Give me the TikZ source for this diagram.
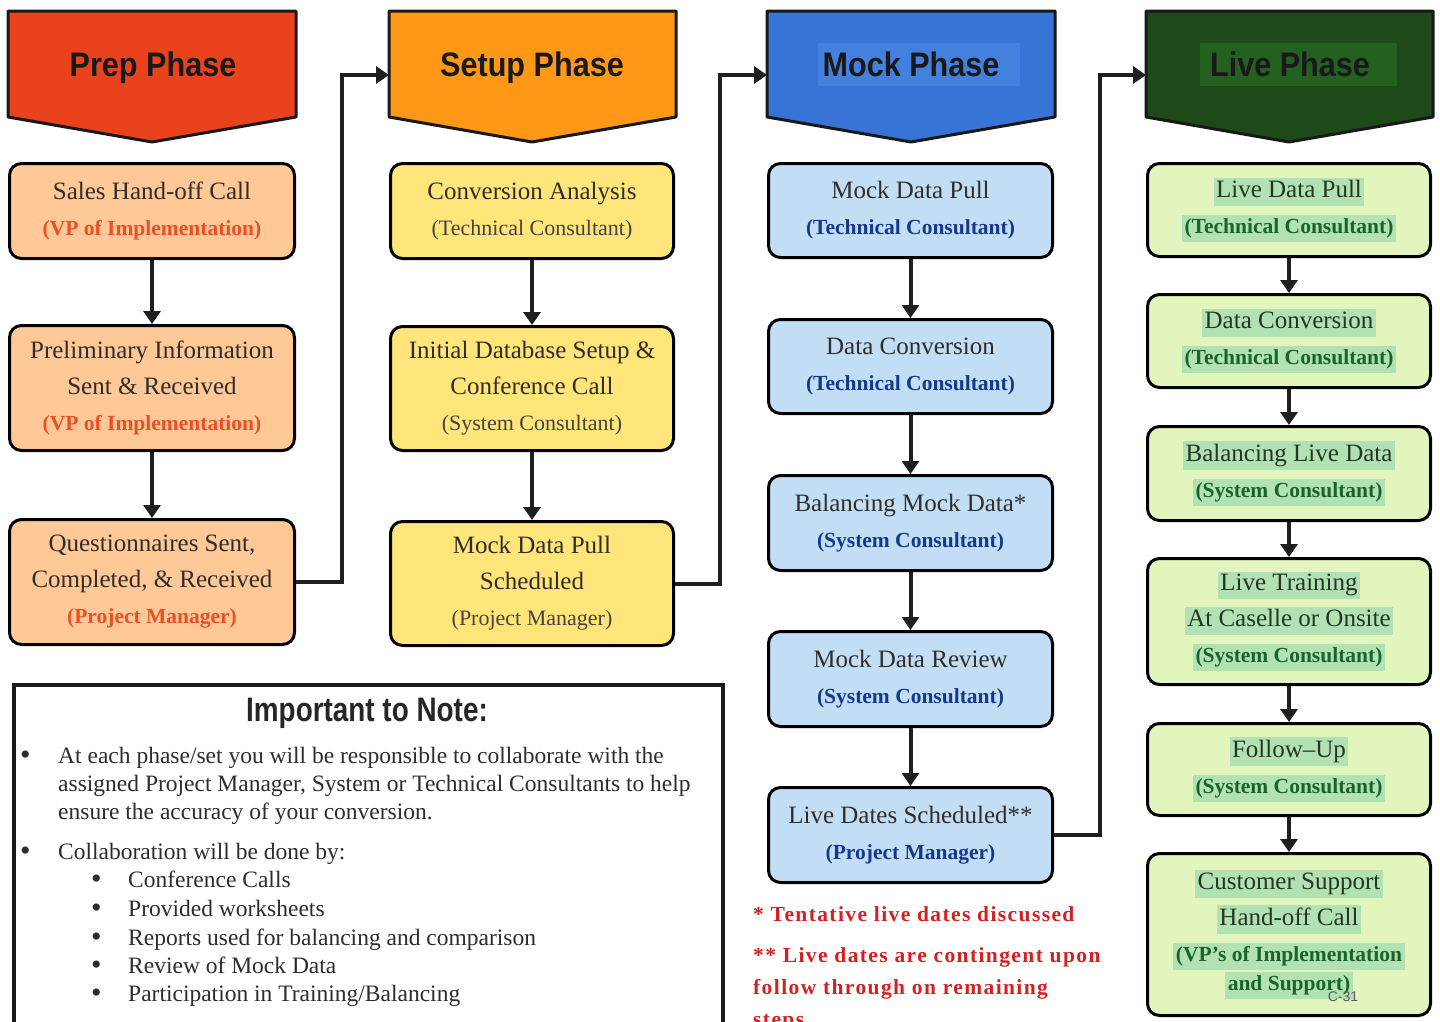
\documentclass[tikz,border=0pt]{standalone}
\usepackage{fontspec}
\setmainfont{Liberation Serif}
\newfontfamily\hdfont[FakeStretch=0.9]{Liberation Sans}
\newfontfamily\notehdfont[FakeStretch=0.82]{Liberation Sans}
\newfontfamily\fnfont[LetterSpace=6.5]{Liberation Serif}
\newfontfamily\cfont{Liberation Sans}
\usetikzlibrary{arrows.meta}

\definecolor{prepred}{RGB}{235,66,30}
\definecolor{setuporange}{RGB}{255,152,22}
\definecolor{mockblue}{RGB}{56,116,214}
\definecolor{mockhl}{RGB}{68,128,222}
\definecolor{livegreen}{RGB}{30,74,26}
\definecolor{livehl}{RGB}{36,96,32}
\definecolor{prepfill}{RGB}{255,200,150}
\definecolor{setupfill}{RGB}{255,229,122}
\definecolor{mockfill}{RGB}{194,222,245}
\definecolor{livefill}{RGB}{226,245,189}
\definecolor{hlgreen}{RGB}{178,226,180}
\definecolor{bodytxt}{RGB}{50,45,40}
\definecolor{livetxt}{RGB}{35,55,35}
\definecolor{preprole}{RGB}{232,80,40}
\definecolor{setuprole}{RGB}{70,68,60}
\definecolor{mockrole}{RGB}{22,56,140}
\definecolor{liverole}{RGB}{25,100,45}
\definecolor{notetxt}{RGB}{45,45,45}
\definecolor{fnred}{RGB}{212,32,32}

\newcommand\bxfont{\fontsize{25}{36}\selectfont}
\newcommand\rlfont{\bfseries\fontsize{21.5}{36}\selectfont}
\newcommand\rlfontreg{\fontsize{22}{36}\selectfont}
\newcommand\hlg[1]{{\setlength{\fboxsep}{2.5pt}\colorbox{hlgreen}{\rule[-6pt]{0pt}{22pt}#1}}}

\tikzset{
  box/.style={draw=black, line width=3pt, rounded corners=12pt, align=center,
    text=bodytxt, font=\bxfont, inner sep=0pt},
  prepbox/.style={box, fill=prepfill, minimum width=285pt},
  setupbox/.style={box, fill=setupfill, minimum width=283pt},
  mockbox/.style={box, fill=mockfill, minimum width=284pt},
  livebox/.style={box, fill=livefill, minimum width=283pt, text=livetxt},
  flow/.style={line width=4pt, draw=black!88, -{Triangle[width=17pt,length=13pt]}},
  hdr/.style={draw=black!90, line width=3pt, line join=round},
  hdtext/.style={font=\hdfont\bfseries\fontsize{34}{40}\selectfont, text=black!90, inner sep=0pt, anchor=base},
  notetext/.style={anchor=base west, inner sep=0pt, text=notetxt, font=\fontsize{23.5}{28}\selectfont},
  bul/.style={anchor=base west, inner sep=0pt, text=notetxt, font=\fontsize{30}{30}\selectfont},
  fntext/.style={anchor=base west, inner sep=0pt, text=fnred, font=\fnfont\bfseries\fontsize{21.5}{26}\selectfont},
}

\begin{document}
\begin{tikzpicture}[x=1pt,y=-1pt]
\useasboundingbox (0,0) rectangle (1440,1021);

% ---------- headers ----------
\draw[hdr, fill=prepred] (8,11) -- (296,11) -- (296,117) -- (152,142) -- (8,117) -- cycle;
\node[hdtext] (hp) at (153,76) {Prep Phase};

\draw[hdr, fill=setuporange] (389,11) -- (676,11) -- (676,117) -- (532,142) -- (389,117) -- cycle;
\node[hdtext] (hs) at (532,76) {Setup Phase};
\coordinate (sin) at (389,75);

\draw[hdr, fill=mockblue] (767,11) -- (1055,11) -- (1055,117) -- (911,142) -- (767,117) -- cycle;
\fill[mockhl] (818,43) rectangle (1020,86);
\node[hdtext] (hm) at (911,76) {Mock Phase};
\coordinate (min) at (767,75);

\draw[hdr, fill=livegreen] (1146,11) -- (1433,11) -- (1433,117) -- (1289,142) -- (1146,117) -- cycle;
\fill[livehl] (1200,43) rectangle (1397,86);
\node[hdtext] (hl) at (1290,76) {Live Phase};
\coordinate (lin) at (1146,75);

% ---------- prep column ----------
\node[prepbox, minimum height=95pt] (p1) at (152,211)
  {Sales Hand-off Call\\{\rlfont\color{preprole}(VP of Implementation)}};
\node[prepbox, minimum height=125pt] (p2) at (152,388)
  {Preliminary Information\\Sent \& Received\\{\rlfont\color{preprole}(VP of Implementation)}};
\node[prepbox, minimum height=125pt] (p3) at (152,582)
  {Questionnaires Sent,\\Completed, \& Received\\{\rlfont\color{preprole}(Project Manager)}};

% ---------- setup column ----------
\node[setupbox, minimum height=95pt] (s1) at (532,211)
  {Conversion Analysis\\{\rlfontreg\color{setuprole}(Technical Consultant)}};
\node[setupbox, minimum height=124pt] (s2) at (532,388.5)
  {Initial Database Setup \&\\Conference Call\\{\rlfontreg\color{setuprole}(System Consultant)}};
\node[setupbox, minimum height=124pt] (s3) at (532,583.5)
  {Mock Data Pull\\Scheduled\\{\rlfontreg\color{setuprole}(Project Manager)}};

% ---------- mock column ----------
\node[mockbox, minimum height=94pt] (m1) at (910.5,210.5)
  {Mock Data Pull\\{\rlfont\color{mockrole}(Technical Consultant)}};
\node[mockbox, minimum height=94pt] (m2) at (910.5,366.5)
  {Data Conversion\\{\rlfont\color{mockrole}(Technical Consultant)}};
\node[mockbox, minimum height=95pt] (m3) at (910.5,523)
  {Balancing Mock Data*\\{\rlfont\color{mockrole}(System Consultant)}};
\node[mockbox, minimum height=95pt] (m4) at (910.5,679)
  {Mock Data Review\\{\rlfont\color{mockrole}(System Consultant)}};
\node[mockbox, minimum height=95pt] (m5) at (910.5,835)
  {Live Dates Scheduled**\\{\rlfont\color{mockrole}(Project Manager)}};

% ---------- live column ----------
\node[livebox, minimum height=93pt] (l1) at (1289,210)
  {\hlg{Live Data Pull}\\{\rlfont\color{liverole}\hlg{(Technical Consultant)}}};
\node[livebox, minimum height=93pt] (l2) at (1289,341)
  {\hlg{Data Conversion}\\{\rlfont\color{liverole}\hlg{(Technical Consultant)}}};
\node[livebox, minimum height=94pt] (l3) at (1289,473.5)
  {\hlg{Balancing Live Data}\\{\rlfont\color{liverole}\hlg{(System Consultant)}}};
\node[livebox, minimum height=126pt] (l4) at (1289,621.5)
  {\hlg{Live Training}\\\hlg{At Caselle or Onsite}\\{\rlfont\color{liverole}\hlg{(System Consultant)}}};
\node[livebox, minimum height=92pt] (l5) at (1289,769.5)
  {\hlg{Follow--Up}\\{\rlfont\color{liverole}\hlg{(System Consultant)}}};
\node[livebox, minimum height=162pt] (l6) at (1289,934.5)
  {\hlg{Customer Support}\\\hlg{Hand-off Call}\\{\rlfont\color{liverole}\hlg{(VP’s of Implementation}}\\[-7pt]{\rlfont\color{liverole}\hlg{and Support)}}};
\node[font=\cfont\fontsize{14}{16}\selectfont, text=black!65, inner sep=0pt] (c31) at (1343,997) {C-31};

% ---------- vertical connectors ----------
\draw[flow] (p1.south) -- (p2.north);
\draw[flow] (p2.south) -- (p3.north);
\draw[flow] (s1.south) -- (s2.north);
\draw[flow] (s2.south) -- (s3.north);
\draw[flow] (m1.south) -- (m2.north);
\draw[flow] (m2.south) -- (m3.north);
\draw[flow] (m3.south) -- (m4.north);
\draw[flow] (m4.south) -- (m5.north);
\draw[flow] (l1.south) -- (l2.north);
\draw[flow] (l2.south) -- (l3.north);
\draw[flow] (l3.south) -- (l4.north);
\draw[flow] (l4.south) -- (l5.north);
\draw[flow] (l5.south) -- (l6.north);

% ---------- phase-to-phase connectors ----------
\draw[flow, line join=miter] (p3.east) -- ++(46,0) |- (sin);
\draw[flow, line join=miter] (s3.east) -- ++(45,0) |- (min);
\draw[flow, line join=miter] (m5.east) -- ++(46,0) |- (lin);

% ---------- note box ----------
\node[draw=black!90, line width=4pt, fill=white, minimum width=709pt, minimum height=360pt,
  anchor=north west, inner sep=0pt] (note) at (12,683) {};
\node[font=\notehdfont\bfseries\fontsize{34}{40}\selectfont, text=black!85, inner sep=0pt] (nt) at (367,713) {Important to Note:};

\node[bul] (b1) at (20,764) {•};
\node[notetext] (n1) at (58,763) {At each phase/set you will be responsible to collaborate with the};
\node[notetext] (n2) at (58,791) {assigned Project Manager, System or Technical Consultants to help};
\node[notetext] (n3) at (58,819) {ensure the accuracy of your conversion.};
\node[bul] (b2) at (20,860) {•};
\node[notetext] (n4) at (58,859) {Collaboration will be done by:};
\node[bul] (b3) at (91,888) {•};
\node[notetext] (n5) at (128,887) {Conference Calls};
\node[bul] (b4) at (91,917) {•};
\node[notetext] (n6) at (128,916) {Provided worksheets};
\node[bul] (b5) at (91,946) {•};
\node[notetext] (n7) at (128,945) {Reports used for balancing and comparison};
\node[bul] (b6) at (91,974) {•};
\node[notetext] (n8) at (128,973) {Review of Mock Data};
\node[bul] (b7) at (91,1002) {•};
\node[notetext] (n9) at (128,1001) {Participation in Training/Balancing};

% ---------- footnotes ----------
\node[fntext] (f1) at (753,921) {* Tentative live dates discussed};
\node[fntext] (f2) at (753,962) {** Live dates are contingent upon};
\node[fntext] (f3) at (753,994) {follow through on remaining};
\node[fntext] (f4) at (753,1026) {steps};
\end{tikzpicture}
\end{document}
